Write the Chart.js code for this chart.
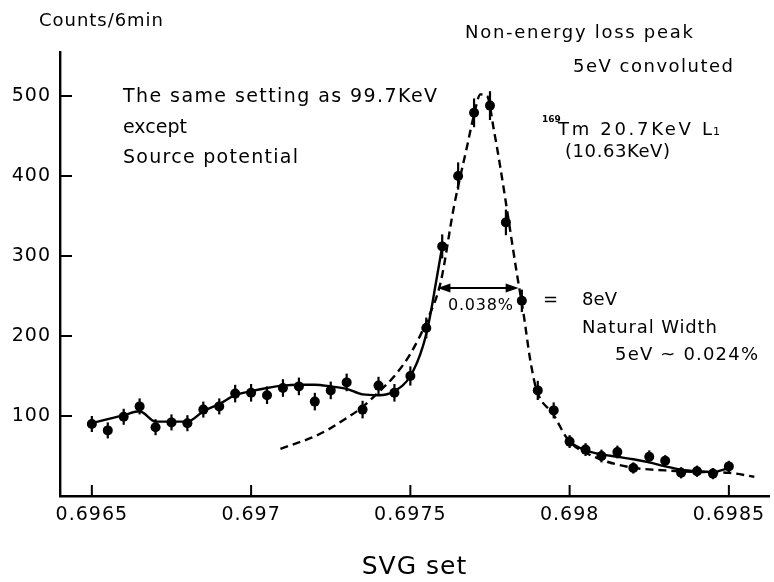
<!DOCTYPE html>
<html><head><meta charset="utf-8">
<script src="https://cdn.jsdelivr.net/npm/chart.js@4/dist/chart.umd.min.js"></script>
<style>html,body{margin:0;padding:0;background:#fff}#wrap{width:774px;height:582px;position:relative}</style>
</head><body><div id="wrap"><canvas id="c"></canvas></div>
<script>
// ---- data ----
const svgSet = [0.69650,0.69655,0.69660,0.69665,0.69670,0.69675,0.69680,0.69685,0.69690,0.69695,
                0.69700,0.69705,0.69710,0.69715,0.69720,0.69725,0.69730,0.69735,0.69740,0.69745,
                0.69750,0.69755,0.69760,0.69765,0.69770,0.69775,0.69780,0.69785,0.69790,0.69795,
                0.69800,0.69805,0.69810,0.69815,0.69820,0.69825,0.69830,0.69835,0.69840,0.69845,0.69850];
const counts = [90,82,99,112,86,92,91,108,112,128,
                129,126,135,137,118,132,142,108,138,129,
                150,210,312,400,479,488,342,244,132,107,
                68,58,50,55,35,49,44,29,31,28,37];
const countErrors = [10,10,10,10,10,10,10,10,10,11,
                     11,11,11,11,11,11,11,11,11,11,
                     12,13,15,17,18,18,16,14,12,10,
                     8,8,8,8,7,8,7,7,7,7,7];
// hand-drawn solid fit (left part)
const fitLeftX = [0.69650,0.69655,0.69660,0.69665,0.69670,0.69675,0.69680,0.69685,0.69690,0.69695,
                  0.69700,0.69705,0.69710,0.69715,0.69720,0.69725,0.69730,0.69735,0.69740,0.69745,
                  0.69750,0.69754,0.69756,0.69758,0.69760];
const fitLeftY = [91,96,101,106,93,93,93,106,115,126,
                  131,135,138,139,139,137,134,127,126,131,
                  150,188,221,266,312];
// hand-drawn solid fit (tail)
const fitRightX = [0.69800,0.69805,0.69810,0.69815,0.69820,0.69825,0.69830,0.69835,0.69840,0.69845,0.69850];
const fitRightY = [67,57,52,49,46,42,37,33,31,30,35];
// non-energy loss peak, 5 eV convoluted (dashed)
const convX = [0.697092,0.69719,0.697242,0.697294,0.697346,0.697398,0.69745,0.697502,0.697554,0.697595,
               0.697637,0.697678,0.697699,0.69772,0.697741,0.697762,0.697782,0.697808,0.697834,0.697855,
               0.697876,0.697896,0.697949,0.697996,0.698084,0.69819,0.6983,0.6984,0.6985,0.69858];
const convY = [59,73,83,96,110,129,150,179,221,267,
               362,437,475,502,500,458,412,346,279,229,
               171,133,102,70,48,36,32,30,29,24];
const widthArrowX = [0.697585, 0.69784];
const widthArrowY = 260;
const xTickValues = [0.6965, 0.697, 0.6975, 0.698, 0.6985];
const xTickLabels = ['0.6965', '0.697', '0.6975', '0.698', '0.6985'];
const yTickValues = [100, 200, 300, 400, 500];

// ---- drawing ----
const FAM = '"DejaVu Sans", sans-serif';
const pts = (xs, ys) => xs.map((x, i) => ({x: x, y: ys[i]}));

function spacedText(ctx, s, x, y, size, targetW, weight) {
  ctx.font = (weight || 'normal') + ' ' + size + 'px ' + FAM;
  ctx.letterSpacing = '0px';
  let sp = 0;
  if (targetW) {
    const w = ctx.measureText(s).width;
    sp = s.length > 1 ? (targetW - w) / (s.length - 1) : 0;
    sp = Math.max(-0.5, sp);
  }
  ctx.letterSpacing = sp.toFixed(2) + 'px';
  ctx.textAlign = 'left';
  ctx.textBaseline = 'alphabetic';
  ctx.fillText(s, x, y);
  ctx.letterSpacing = '0px';
}

const labels = [
  ['Counts/6min', 39, 26, 18, 124],
  ['The same setting as 99.7KeV', 123, 101.7, 19, 314],
  ['except', 123, 132.5, 19, 0],
  ['Source potential', 123, 163.3, 19, 175],
  ['Non-energy loss peak', 465, 38.3, 18, 228],
  ['5eV convoluted', 573, 71.7, 18, 160],
  ['Tm 20.7KeV L', 558, 135, 18, 154],
  ['(10.63KeV)', 565, 157, 18, 105],
  ['0.038%', 448, 310, 16, 65],
  ['=', 543, 305, 18, 0],
  ['8eV', 582, 305, 18, 35],
  ['Natural Width', 582, 333.3, 18, 135],
  ['5eV ~ 0.024%', 615, 360, 18, 143]
];

const overlay = {
  id: 'overlay',
  beforeDraw(chart) { chart.ctx.letterSpacing = '1px'; },
  beforeDatasetsDraw(chart) {
    const ctx = chart.ctx, xs = chart.scales.x, ys = chart.scales.y;
    ctx.save();
    ctx.strokeStyle = '#000'; ctx.lineWidth = 2.2;
    svgSet.forEach((v, i) => {
      const px = xs.getPixelForValue(v);
      ctx.beginPath();
      ctx.moveTo(px, ys.getPixelForValue(counts[i] + countErrors[i]));
      ctx.lineTo(px, ys.getPixelForValue(counts[i] - countErrors[i]));
      ctx.stroke();
    });
    ctx.restore();
  },
  afterDraw(chart) {
    const ctx = chart.ctx, xs = chart.scales.x, ys = chart.scales.y, a = chart.chartArea;
    ctx.save();
    ctx.letterSpacing = '0px';
    ctx.strokeStyle = '#000'; ctx.fillStyle = '#000'; ctx.lineWidth = 2;
    // inward tick marks
    xTickValues.forEach(v => {
      const px = xs.getPixelForValue(v);
      ctx.beginPath(); ctx.moveTo(px, a.bottom); ctx.lineTo(px, a.bottom - 11); ctx.stroke();
    });
    yTickValues.forEach(v => {
      const py = ys.getPixelForValue(v);
      ctx.beginPath(); ctx.moveTo(a.left, py); ctx.lineTo(a.left + 12, py); ctx.stroke();
    });
    // width arrow
    const x1 = xs.getPixelForValue(widthArrowX[0]), x2 = xs.getPixelForValue(widthArrowX[1]);
    const ay = ys.getPixelForValue(widthArrowY);
    ctx.lineWidth = 1.8;
    ctx.beginPath(); ctx.moveTo(x1 + 6, ay); ctx.lineTo(x2 - 6, ay); ctx.stroke();
    ctx.beginPath(); ctx.moveTo(x1, ay); ctx.lineTo(x1 + 13, ay - 4.5); ctx.lineTo(x1 + 13, ay + 4.5); ctx.closePath(); ctx.fill();
    ctx.beginPath(); ctx.moveTo(x2, ay); ctx.lineTo(x2 - 13, ay - 4.5); ctx.lineTo(x2 - 13, ay + 4.5); ctx.closePath(); ctx.fill();
    // texts
    labels.forEach(l => spacedText(ctx, l[0], l[1], l[2], l[3], l[4]));
    spacedText(ctx, '169', 542, 122, 9, 0, 'bold');
    spacedText(ctx, '1', 713, 135, 11, 0);
    ctx.restore();
  }
};

new Chart(document.getElementById('c'), {
  type: 'scatter',
  data: {
    datasets: [
      {data: pts(svgSet, counts), showLine: false, pointRadius: 5, pointBackgroundColor: '#000',
       pointBorderWidth: 0, pointBorderColor: '#000', order: 0},
      {data: pts(fitLeftX, fitLeftY), showLine: true, pointRadius: 0, borderColor: '#000', borderWidth: 2.4,
       cubicInterpolationMode: 'monotone', fill: false, order: 1},
      {data: pts(fitRightX, fitRightY), showLine: true, pointRadius: 0, borderColor: '#000', borderWidth: 2.4,
       cubicInterpolationMode: 'monotone', fill: false, order: 1},
      {data: pts(convX, convY), showLine: true, pointRadius: 0, borderColor: '#000', borderWidth: 2.4,
       borderDash: [8, 5], cubicInterpolationMode: 'monotone', fill: false, order: 1}
    ]
  },
  options: {
    responsive: true, maintainAspectRatio: false, animation: false, events: [],
    layout: {padding: {left: 0, right: 1, top: 52, bottom: 0}},
    plugins: {legend: {display: false}, tooltip: {enabled: false}},
    scales: {
      x: {
        type: 'linear', min: 0.6964, max: 0.698626,
        afterFit(s) { s.height = 86; },
        afterBuildTicks(s) { s.ticks = xTickValues.map(v => ({value: v})); },
        ticks: {callback: (v, i) => xTickLabels[i], font: {family: FAM, size: 19}, color: '#000',
                padding: 8, maxRotation: 0, autoSkip: false},
        grid: {display: false, drawTicks: false},
        border: {display: true, color: '#000', width: 2.4},
        title: {display: true, text: 'SVG set', font: {family: FAM, size: 25}, color: '#000',
                padding: {top: 0, bottom: 0}}
      },
      y: {
        type: 'linear', min: 0, max: 555,
        afterFit(s) { s.width = 60; },
        afterBuildTicks(s) { s.ticks = yTickValues.map(v => ({value: v})); },
        ticks: {callback: v => String(v), font: {family: FAM, size: 19}, color: '#000', padding: 9},
        grid: {display: false, drawTicks: false},
        border: {display: true, color: '#000', width: 2.4}
      }
    }
  },
  plugins: [overlay]
});
</script></body></html>
